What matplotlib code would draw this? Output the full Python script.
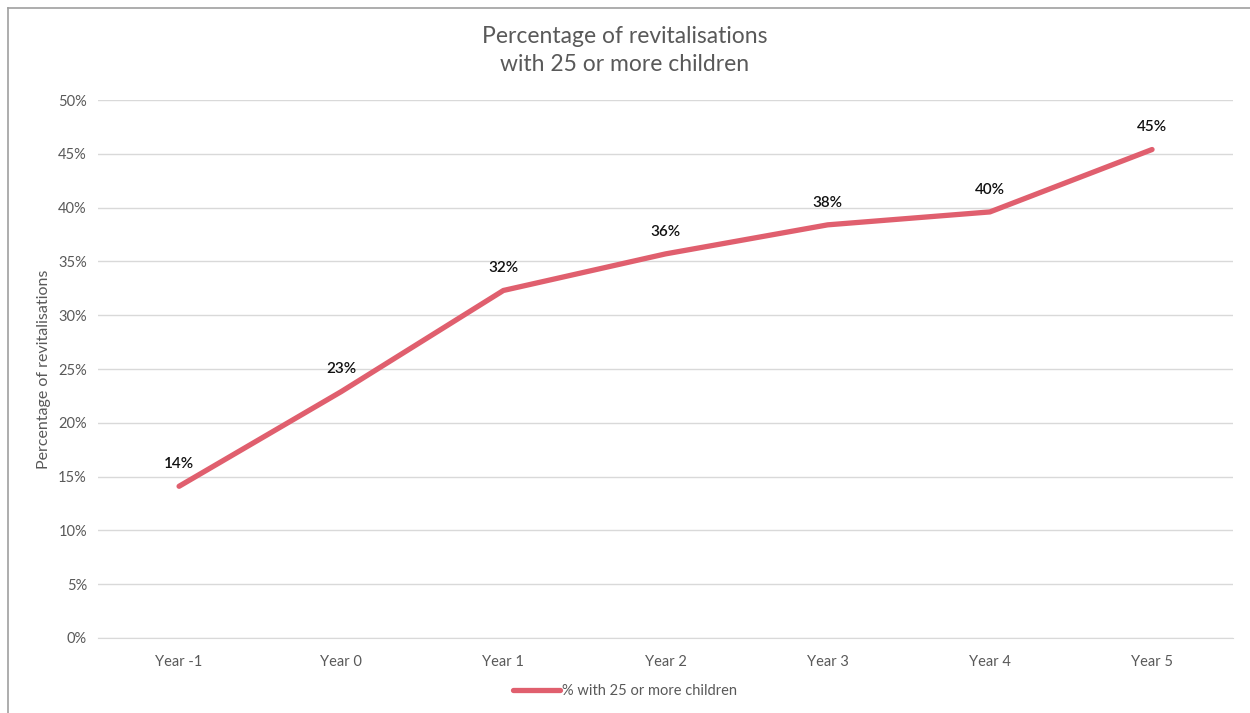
import matplotlib.pyplot as plt
from matplotlib.lines import Line2D
from matplotlib.ticker import FuncFormatter

years = ["Year -1", "Year 0", "Year 1", "Year 2", "Year 3", "Year 4", "Year 5"]
pct = [14.1, 22.9, 32.3, 35.7, 38.4, 39.6, 45.4]
labels = ["14%", "23%", "32%", "36%", "38%", "40%", "45%"]

plt.rcParams['font.family'] = ['Lato', 'DejaVu Sans']

line_col = '#E05F6E'
grey = '#595959'

fig = plt.figure(figsize=(12.5, 7.13), dpi=100)
ax = fig.add_axes([0.0784, 0.1052, 0.9081, 0.7545])

x = list(range(len(years)))
ax.plot(x, pct, color=line_col, linewidth=3.8, solid_capstyle='round',
        solid_joinstyle='round', label='% with 25 or more children')

for xi, yi, lab in zip(x, pct, labels):
    ax.annotate(lab, (xi, yi), xytext=(0, 11), textcoords='offset points',
                ha='center', va='bottom', fontsize=11, color='#111111',
                fontweight='semibold')

ax.set_xlim(-0.5, len(years) - 0.5)
ax.set_ylim(0, 50)
ax.set_yticks(range(0, 51, 5))
ax.yaxis.set_major_formatter(FuncFormatter(lambda v, p: f"{int(v)}%"))
ax.set_xticks(x)
ax.set_xticklabels(years)
ax.grid(axis='y', color='#d9d9d9', linewidth=1)
ax.set_axisbelow(True)
for s in ['top', 'right', 'left']:
    ax.spines[s].set_visible(False)
ax.spines['bottom'].set_color('#d9d9d9')
ax.tick_params(axis='both', length=0, labelsize=10.5, colors=grey, pad=8)
ax.tick_params(axis='x', pad=12)

ax.set_ylabel('Percentage of revitalisations', fontsize=11.5, color=grey, labelpad=5)

fig.text(0.5, 0.929, 'Percentage of revitalisations\nwith 25 or more children',
         ha='center', va='center', fontsize=16.5, color=grey, linespacing=1.45)

fig.legend(loc='center', bbox_to_anchor=(0.5, 0.031), frameon=False,
           fontsize=10.5, labelcolor=grey, handlelength=3.2, handletextpad=0.1)

# chart frame (left and top edges visible)
fig.add_artist(Line2D([0.0064, 0.0064], [0, 0.989], color='#a0a0a0', linewidth=1.2, transform=fig.transFigure))
fig.add_artist(Line2D([0.0064, 1], [0.989, 0.989], color='#a0a0a0', linewidth=1.2, transform=fig.transFigure))

fig.savefig('out.png', dpi=100)
